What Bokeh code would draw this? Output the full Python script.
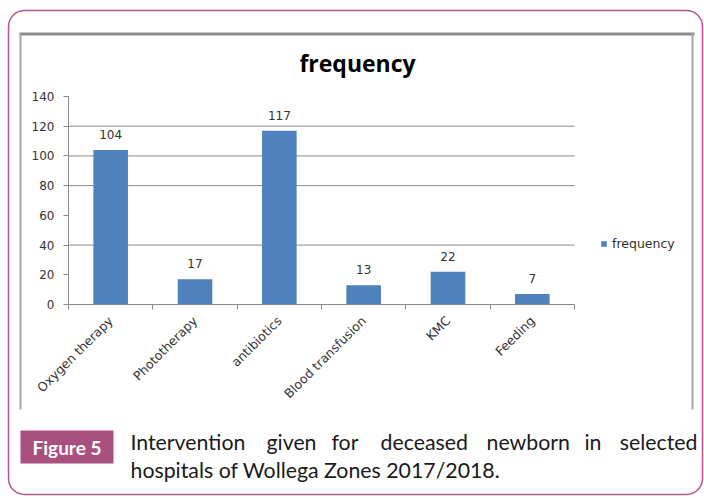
import math
from bokeh.plotting import figure
from bokeh.models import (Range1d, FixedTicker, LabelSet, Legend, LegendItem,
                          ColumnDataSource)
from bokeh.core.properties import value
from bokeh.embed import file_html
from bokeh.resources import INLINE

# ---- data ----
categories = ["Oxygen therapy", "Phototherapy", "antibiotics",
              "Blood transfusion", "KMC", "Feeding"]
frequency = [104, 17, 117, 13, 22, 7]
y_ticks = [0, 20, 40, 60, 80, 100, 120, 140]
grid_ticks = [40, 80, 100, 120]

title_text = "frequency"
fig_tag = "Figure 5"
caption_line1 = ["Intervention", "given", "for", "deceased", "newborn", "in", "selected"]
caption_line2 = "hospitals of Wollega Zones 2017/2018."

# ---- layout constants (canvas pixels) ----
W, H = 704, 498
FL, FR, FT, FB = 68, 574, 96, 304   # edges of the bar plotting area

BAR_COLOR = "#4F81BD"
AXIS_GRAY = "#8a8a8a"
TEXT_GRAY = "#333333"
ACCENT = "#A8517F"
TICK_FONT = "DejaVu Sans"
TICK_SIZE = "12px"
CAPTION_FONT = "Lato"
CAPTION_SIZE = "21.3px"

n = len(categories)
y_max = y_ticks[-1]
ppx = (FR - FL) / n          # pixels per category
ppy = (FB - FT) / y_max      # pixels per count

# The frame fills the whole card; data ranges are widened so that the
# bar area lands on FL..FR / FT..FB, and the axes are pinned at 0.
p = figure(width=W, height=H, output_backend="svg", toolbar_location=None,
           x_range=Range1d(-FL / ppx, n + (W - FR) / ppx),
           y_range=Range1d(-(H - FB) / ppy, y_max + FT / ppy),
           min_border=0, min_border_left=0, min_border_right=0,
           min_border_top=0, min_border_bottom=0)
p.outline_line_color = None
p.background_fill_color = "white"
p.border_fill_color = "white"
p.xgrid.visible = False
p.ygrid.visible = False

# second coordinate system in plain canvas pixels (y pointing down)
p.extra_x_ranges = {"px": Range1d(0, W)}
p.extra_y_ranges = {"px": Range1d(H, 0)}
PX = dict(x_range_name="px", y_range_name="px")

# ---- card decoration ----
p.quad(left=8, right=702, top=10, bottom=494, border_radius=16,
       fill_alpha=0, line_color="#B5568C", line_width=1.5, **PX)
p.quad(left=[19, 19, 691], right=[694, 21, 693], top=[32, 33, 33],
       bottom=[35, 409, 409], fill_color=["#8c8c8c", "#a6a6a6", "#a6a6a6"],
       line_color=None, **PX)

p.text(x=[357], y=[62], text=[title_text], text_font=value("Open Sans"),
       text_font_style="bold", text_font_size="23px", text_align="center",
       text_baseline="middle", text_color="black", **PX)

p.quad(left=20, right=113, top=430, bottom=463, fill_color=ACCENT,
       line_color=None, **PX)
p.text(x=[66.5], y=[447], text=[fig_tag], text_font=value(CAPTION_FONT),
       text_font_style="bold", text_font_size="19px", text_align="center",
       text_baseline="middle", text_color="white", **PX)

# caption: first line justified (last word flush right), second line flush left
word_x = [130, 266, 331, 380, 486, 584]
p.text(x=word_x, y=[441] * len(word_x), text=caption_line1[:-1],
       text_font=value(CAPTION_FONT), text_font_size=CAPTION_SIZE,
       text_align="left", text_baseline="middle", text_color="#1a1a1a", **PX)
p.text(x=[697], y=[441], text=caption_line1[-1:],
       text_font=value(CAPTION_FONT), text_font_size=CAPTION_SIZE,
       text_align="right", text_baseline="middle", text_color="#1a1a1a", **PX)
p.text(x=[130], y=[469], text=[caption_line2], text_font=value(CAPTION_FONT),
       text_font_size=CAPTION_SIZE, text_align="left", text_baseline="middle",
       text_color="#1a1a1a", **PX)

# ---- gridlines at selected tick values ----
p.segment(x0=0, x1=n, y0=grid_ticks, y1=grid_ticks, line_color=AXIS_GRAY,
          line_width=1)

# ---- bars and value labels ----
xpos = [i + 0.5 for i in range(n)]
src = ColumnDataSource(dict(x=xpos, top=frequency,
                            lbl=[str(v) for v in frequency]))
bars = p.vbar(x="x", top="top", width=0.41, source=src, fill_color=BAR_COLOR,
              line_color=None)

p.add_layout(LabelSet(x="x", y="top", text="lbl", source=src, y_offset=11,
                      text_align="center", text_baseline="bottom",
                      text_font=value(TICK_FONT), text_font_size=TICK_SIZE,
                      text_color=TEXT_GRAY))

# ---- axes ----
xa = p.xaxis[0]
xa.fixed_location = 0
xa.bounds = (0, n)
xa.ticker = FixedTicker(ticks=xpos, minor_ticks=list(range(n + 1)))
xa.major_label_overrides = {x: c for x, c in zip(xpos, categories)}
xa.major_label_orientation = math.pi / 4
xa.major_tick_line_color = None
xa.minor_tick_line_color = AXIS_GRAY
xa.minor_tick_in = 0
xa.minor_tick_out = 5
xa.axis_line_color = AXIS_GRAY
xa.major_label_standoff = 8
xa.major_label_text_font = TICK_FONT
xa.major_label_text_font_size = "12.5px"
xa.major_label_text_color = TEXT_GRAY

ya = p.yaxis[0]
ya.fixed_location = 0
ya.bounds = (0, y_max)
ya.ticker = FixedTicker(ticks=y_ticks, minor_ticks=[])
ya.axis_line_color = AXIS_GRAY
ya.major_tick_line_color = AXIS_GRAY
ya.major_tick_in = 0
ya.major_tick_out = 5
ya.minor_tick_line_color = None
ya.major_label_standoff = 9
ya.major_label_text_font = TICK_FONT
ya.major_label_text_font_size = TICK_SIZE
ya.major_label_text_color = TEXT_GRAY

# ---- legend ----
legend = Legend(items=[LegendItem(label="frequency", renderers=[bars])],
                location=(600, H - 251), glyph_width=7, glyph_height=7,
                label_height=12, label_standoff=5, padding=0, margin=0,
                spacing=0, border_line_color=None, background_fill_alpha=0,
                label_text_font=TICK_FONT, label_text_font_size="12.5px",
                label_text_color=TEXT_GRAY)
p.add_layout(legend)

open("out.html", "w").write(file_html(p, INLINE))
